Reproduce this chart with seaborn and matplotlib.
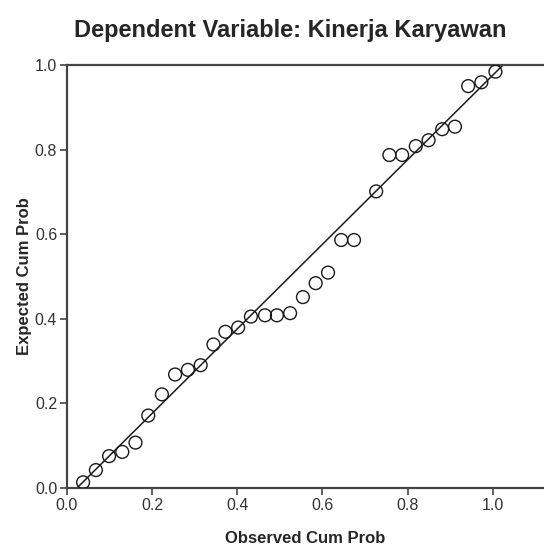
import numpy as np
import pandas as pd
import matplotlib
matplotlib.use('Agg')
import matplotlib.pyplot as plt
import seaborn as sns

# Data
observed = [0.038, 0.068, 0.099, 0.130, 0.161, 0.191, 0.223, 0.254, 0.284, 0.314,
            0.344, 0.372, 0.402, 0.432, 0.465, 0.493, 0.524, 0.554, 0.584, 0.613,
            0.644, 0.674, 0.726, 0.757, 0.787, 0.819, 0.849, 0.881, 0.911, 0.942,
            0.973, 1.006]
expected = [0.013, 0.042, 0.075, 0.085, 0.107, 0.171, 0.221, 0.268, 0.279, 0.290,
            0.339, 0.369, 0.379, 0.405, 0.408, 0.408, 0.413, 0.451, 0.484, 0.509,
            0.586, 0.586, 0.701, 0.787, 0.787, 0.808, 0.822, 0.848, 0.854, 0.950,
            0.959, 0.984]
ref_x = [0.024, 1.024]
ref_y = [0.0, 1.0]
ticks = [0.0, 0.2, 0.4, 0.6, 0.8, 1.0]
tick_labels = ['0.0', '0.2', '0.4', '0.6', '0.8', '1.0']

sns.set_style('white')
plt.rcParams['font.family'] = ['Liberation Sans', 'DejaVu Sans']

dados = pd.DataFrame({'Observed Cum Prob': observed, 'Expected Cum Prob': expected})

fig = plt.figure(figsize=(5.44, 5.55), dpi=100)
ax = fig.add_axes([0.123, 0.121, 0.877, 0.762])

sns.lineplot(x=ref_x, y=ref_y, color='#1a1a1a', linewidth=1.1, ax=ax)
sns.scatterplot(data=dados, x='Observed Cum Prob', y='Expected Cum Prob',
                marker='o', s=85, facecolor='none', edgecolor='#1a1a1a',
                linewidth=1.0, ax=ax, zorder=3)

ax.set_xlim(0, 1.12)
ax.set_ylim(0, 1.0)
ax.set_xticks(ticks, tick_labels)
ax.set_yticks(ticks, tick_labels)
ax.tick_params(axis='both', direction='out', length=5, width=1.2,
               color='#444444', labelsize=11.5, labelcolor='#333333', pad=2)
ax.tick_params(left=True, bottom=True)

for side in ['left', 'bottom', 'top']:
    ax.spines[side].set_color('#444444')
    ax.spines[side].set_linewidth(1.6)
ax.spines['right'].set_visible(False)

ax.set_xlabel('Observed Cum Prob', fontsize=12, fontweight='bold', labelpad=13)
ax.set_ylabel('Expected Cum Prob', fontsize=12, fontweight='bold')
ax.yaxis.set_label_coords(-0.073, 0.5)
fig.text(0.533, 0.945, 'Dependent Variable: Kinerja Karyawan', ha='center',
         va='center', fontsize=17, fontweight='bold')

fig.savefig('out.png', dpi=100)
